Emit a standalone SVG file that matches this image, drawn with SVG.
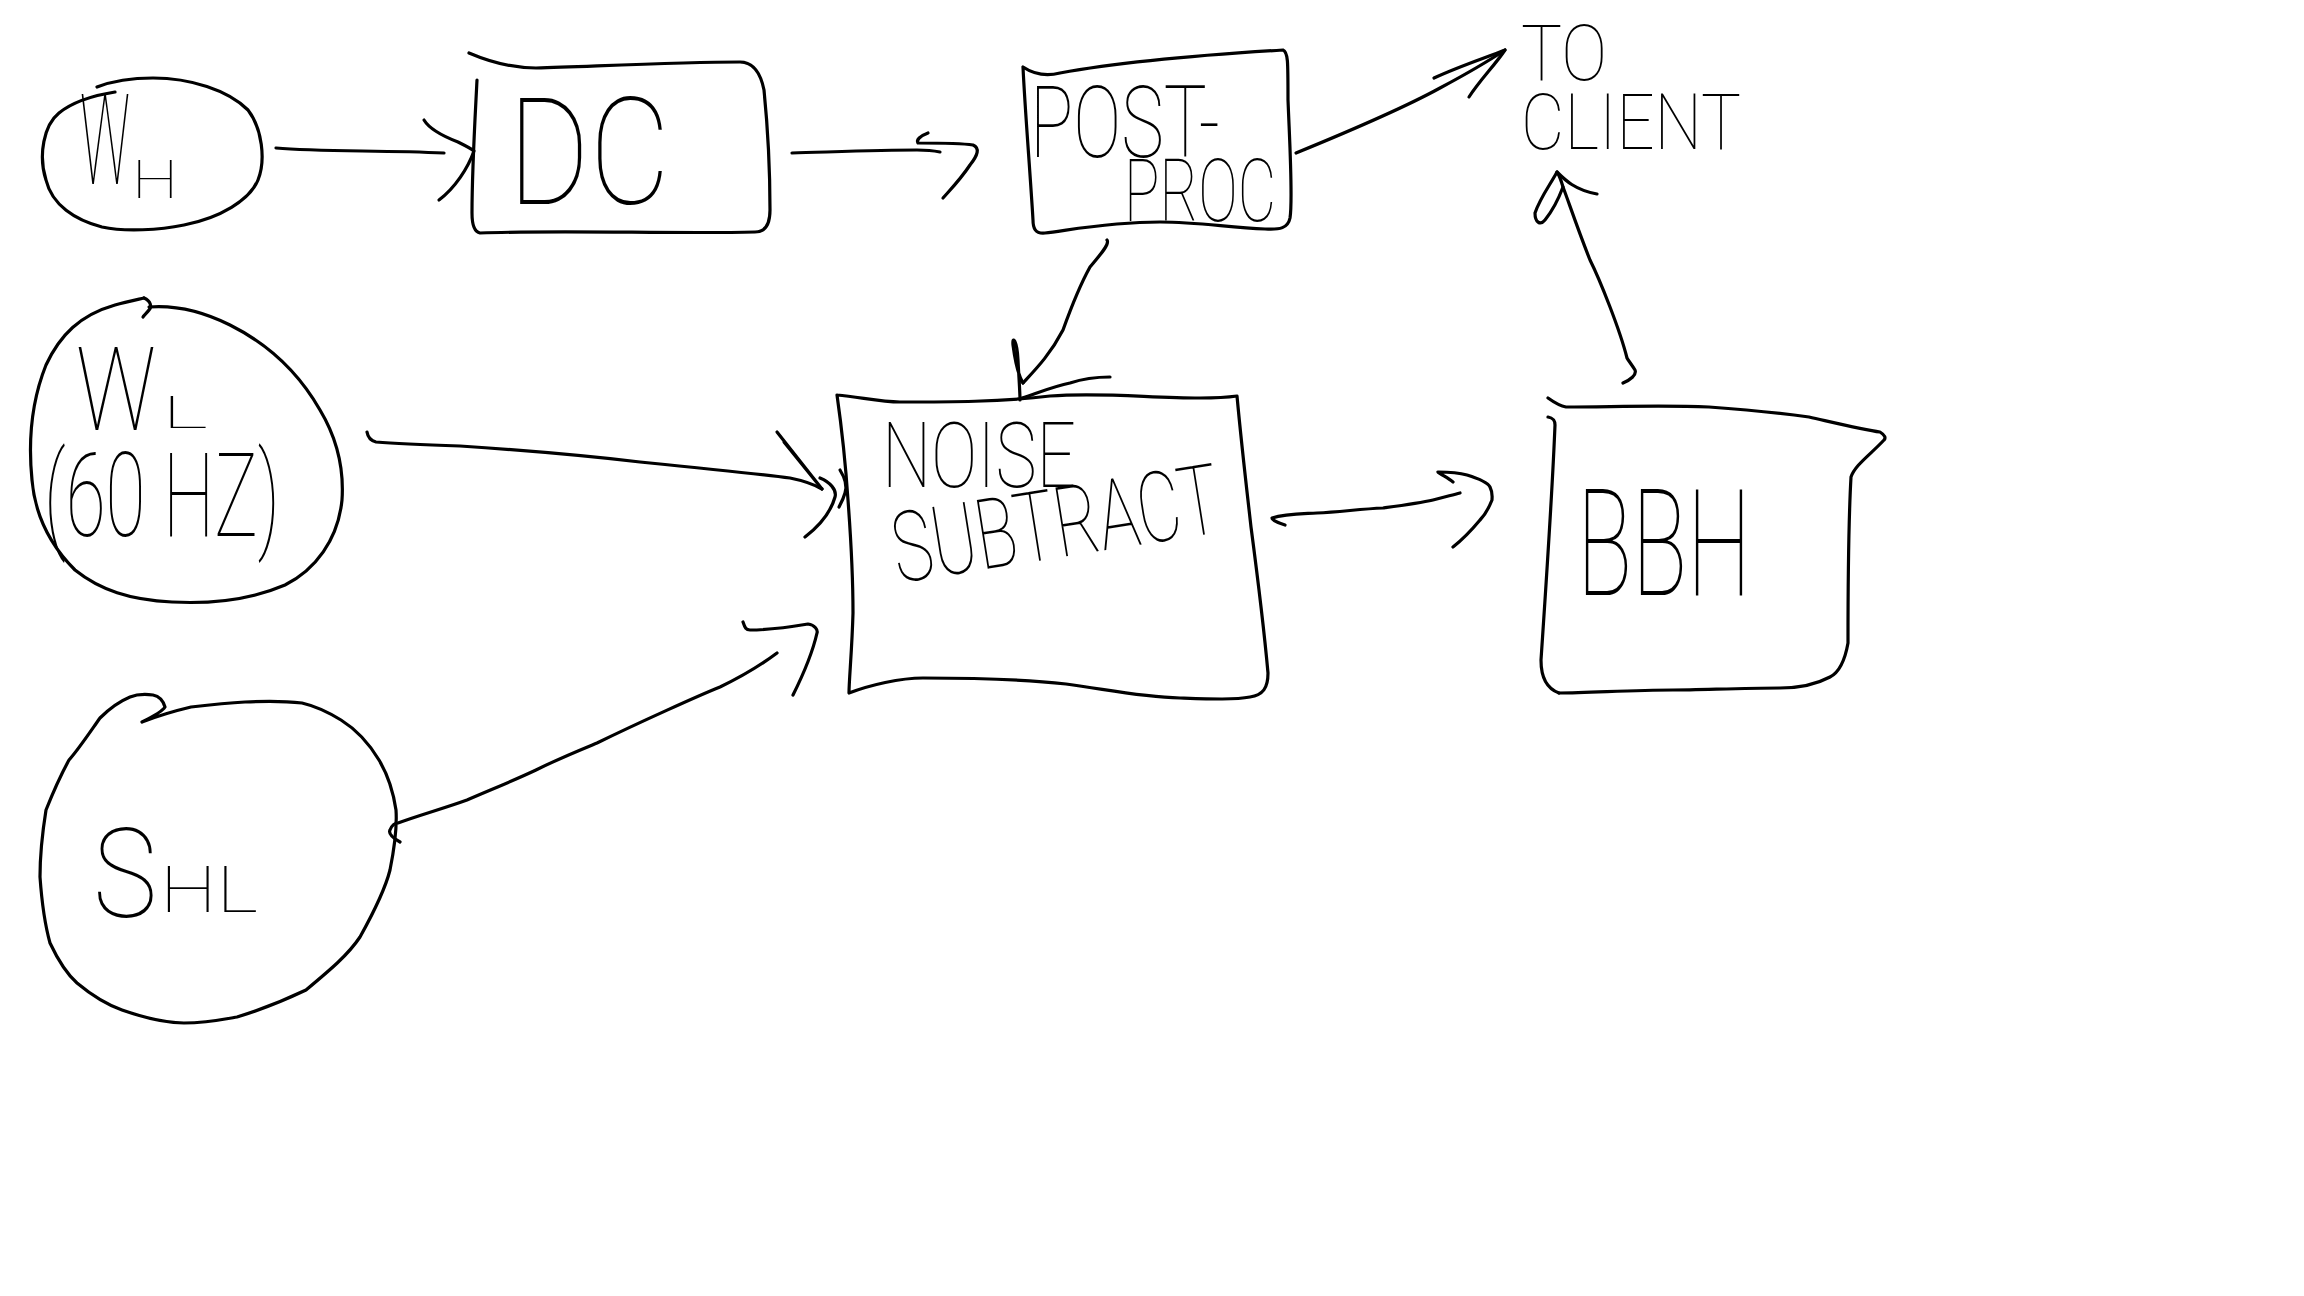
<svg xmlns="http://www.w3.org/2000/svg" width="2304" height="1296" viewBox="0 0 2304 1296">
<style>
.s{fill:none;stroke:#000;stroke-width:3.2;stroke-linecap:round;stroke-linejoin:round}
.t{font-family:Roboto,Inter,Lato,"Noto Sans","DejaVu Sans",sans-serif;font-weight:100;fill:#000}
</style>
<rect width="2304" height="1296" fill="#fff"/>
<g id="node-wh">
<path class="s" d="M97,87 C110,82 130,78 153,78 C190,78 228,90 248,110 C262,128 266,160 258,180 C250,200 220,218 184,225 C160,230 125,232 102,227 C75,220 52,205 46,180 C38,155 44,125 59,113 C70,104 90,96 115,92"/>
<text class="t" x="80" y="184"><tspan font-size="126" textLength="50" lengthAdjust="spacingAndGlyphs">W</tspan><tspan dx="2" dy="14" font-size="54" textLength="46" lengthAdjust="spacingAndGlyphs">H</tspan></text>
</g>
<g id="node-dc">
<path class="s" d="M469,53 C490,62 510,68 536,68 C600,66 680,62 740,62 C752,62 760,70 764,90 C768,130 770,180 770,210 C770,225 765,232 755,232 C680,234 560,230 480,233 C475,232 472,225 472,213 C472,170 475,120 477,80"/>
<text class="t" x="508" y="204" font-size="148" textLength="162" lengthAdjust="spacingAndGlyphs">DC</text>
</g>
<g id="node-postproc">
<path class="s" d="M1023,67 C1035,75 1048,76 1060,73 C1120,62 1200,55 1283,50 C1288,52 1288,60 1288,100 C1290,150 1293,200 1290,218 C1288,228 1280,230 1265,229 C1230,228 1200,222 1160,222 C1110,222 1070,230 1045,233 C1035,234 1033,228 1033,220 C1030,170 1025,110 1023,67"/>
<text class="t"><tspan x="1030" y="157" font-size="100" textLength="190" lengthAdjust="spacingAndGlyphs">POST-</tspan><tspan x="1124" y="221" font-size="88" textLength="152" lengthAdjust="spacingAndGlyphs">PROC</tspan></text>
</g>
<g id="node-toclient">
<text class="t" font-size="78"><tspan x="1521" y="80" textLength="86" lengthAdjust="spacingAndGlyphs">TO</tspan><tspan x="1521" y="149" textLength="220" lengthAdjust="spacingAndGlyphs">CLIENT</tspan></text>
</g>
<g id="node-wl">
<path class="s" d="M144,298 C151,301 152,307 149,310 C147,313 144,315 143,317"/>
<path class="s" d="M149,307 C175,305 200,310 230,325 C270,345 300,375 320,410 C338,440 344,470 342,500 C338,540 315,570 285,585 C250,600 210,604 172,602 C130,600 100,590 75,570 C50,545 35,515 32,480 C28,440 32,400 46,365 C60,335 80,315 115,305 C125,302 135,300 144,298"/>
<text class="t" x="76" y="430"><tspan font-size="116" textLength="80" lengthAdjust="spacingAndGlyphs">W</tspan><tspan dx="6" dy="-2" font-size="44" textLength="46" lengthAdjust="spacingAndGlyphs">L</tspan><tspan x="44" y="536" font-size="116" textLength="236" lengthAdjust="spacingAndGlyphs">(60 HZ)</tspan></text>
</g>
<g id="node-noise">
<path class="s" d="M837,395 C860,397 880,402 900,402 C950,402 1000,402 1050,396 C1100,392 1150,398 1200,398 C1220,398 1230,397 1237,396 C1242,450 1248,500 1251,527 C1258,580 1265,640 1268,673 C1268,688 1263,695 1250,697 C1235,700 1210,699 1180,698 C1140,697 1110,690 1066,684 C1030,680 980,678 923,678 C900,678 870,685 849,693 C849,680 852,650 853,613 C853,580 851,540 848,500 C846,470 842,430 837,395"/>
<text class="t" x="882" y="487" font-size="90" textLength="194" lengthAdjust="spacingAndGlyphs">NOISE</text>
<text class="t" x="898" y="583" font-size="98" textLength="330" lengthAdjust="spacingAndGlyphs" transform="rotate(-9 898 583)">SUBTRACT</text>
</g>
<g id="node-bbh">
<path class="s" d="M1548,398 C1555,403 1560,406 1566,407 C1610,407 1660,405 1709,407 C1750,410 1780,413 1809,417 C1840,424 1865,430 1880,432 C1885,435 1886,438 1884,440 C1870,455 1855,465 1851,477 C1848,530 1848,600 1848,643 C1845,660 1840,672 1830,677 C1815,685 1800,688 1780,688 C1740,688 1700,690 1673,690 C1630,690 1590,693 1559,693"/>
<path class="s" d="M1548,417 C1553,418 1555,420 1555,425 C1552,500 1545,600 1541,660 C1541,675 1545,688 1559,693"/>
<text class="t" x="1577" y="595" font-size="148" textLength="174" lengthAdjust="spacingAndGlyphs">BBH</text>
</g>
<g id="node-shl">
<path class="s" d="M142,722 C150,718 162,712 165,707 C163,700 158,696 153,695 C145,694 135,695 130,697 C118,702 108,710 100,718 C88,735 78,750 69,760 C58,780 50,800 46,810 C42,835 40,860 40,877 C42,905 45,925 50,943 C58,960 68,975 77,983 C95,998 108,1005 122,1010 C145,1018 165,1023 184,1023 C205,1023 220,1020 237,1017 C260,1010 285,1000 306,990 C330,970 348,955 360,937 C375,910 385,890 390,870 C395,845 397,825 396,810 C393,790 388,775 379,760 C370,745 357,730 341,720 C328,712 315,706 302,703 C285,701 265,701 245,702 C225,703 208,705 191,707 C170,712 155,717 142,722"/>
<text class="t" x="93" y="917"><tspan font-size="124" textLength="64" lengthAdjust="spacingAndGlyphs">S</tspan><tspan dx="3" dy="-5" font-size="64" textLength="98" lengthAdjust="spacingAndGlyphs">HL</tspan></text>
</g>
<g id="connectors">
<path class="s" d="M276,148 C320,152 380,150 444,153"/>
<path class="s" d="M424,120 C430,130 445,137 458,142 C466,146 472,149 474,151 C468,168 455,188 439,200"/>
<path class="s" d="M792,153 C830,152 880,150 917,150 C925,150 935,151 940,152"/>
<path class="s" d="M928,133 C920,136 916,140 918,143 C930,143 960,143 973,145 C980,148 978,155 970,165 C960,180 950,190 943,198"/>
<path class="s" d="M1296,153 C1340,135 1400,110 1440,88 C1470,72 1490,60 1505,50"/>
<path class="s" d="M1434,78 C1460,66 1485,58 1505,50 C1495,65 1480,80 1469,97"/>
<path class="s" d="M1623,383 C1630,380 1637,375 1635,370 C1632,365 1628,360 1627,358 C1620,330 1600,280 1590,260 C1578,230 1568,200 1563,187"/>
<path class="s" d="M1563,187 C1561,180 1559,175 1557,172 C1550,185 1540,198 1535,213 C1535,222 1540,226 1545,220 C1553,210 1560,195 1563,187"/>
<path class="s" d="M1557,172 C1565,180 1575,190 1597,194"/>
<path class="s" d="M1107,240 C1110,244 1100,255 1090,267 C1080,285 1072,305 1063,330 C1050,355 1035,370 1023,383"/>
<path class="s" d="M1023,383 C1018,375 1015,360 1013,345 C1012,335 1017,340 1018,360 C1019,380 1020,392 1020,400"/>
<path class="s" d="M1022,398 C1040,392 1055,386 1070,383 C1085,378 1095,377 1110,377"/>
<path class="s" d="M367,432 C368,438 372,441 376,442 C400,444 430,445 460,446 C520,450 580,455 640,462 C700,468 760,474 790,478 C805,481 815,485 822,489"/>
<path class="s" d="M777,432 L822,489 L784,442"/>
<path class="s" d="M820,478 C830,482 837,490 835,497 C830,515 818,527 805,537"/>
<path class="s" d="M840,470 C845,478 847,487 845,493 C843,500 840,505 839,507"/>
<path class="s" d="M400,842 C393,838 388,834 390,830 C392,825 395,823 398,823 C420,815 445,808 467,800 C490,790 515,780 536,770 C560,758 580,750 597,743 C640,722 700,695 720,687 C745,675 765,662 777,653"/>
<path class="s" d="M743,622 C745,628 746,630 750,630 C770,630 790,627 808,624 C815,625 818,630 817,633 C812,655 803,675 793,695"/>
<path class="s" d="M1285,525 C1278,523 1272,520 1272,518 C1285,514 1300,514 1317,513 C1340,512 1360,509 1383,508 C1405,505 1420,503 1433,500 C1445,497 1452,495 1460,493"/>
<path class="s" d="M1453,482 C1448,478 1440,474 1438,472 C1450,472 1460,473 1467,475 C1480,479 1488,483 1490,487 C1493,493 1492,497 1492,500 C1488,510 1485,515 1480,520 C1470,532 1462,540 1453,547"/>
</g>
</svg>
